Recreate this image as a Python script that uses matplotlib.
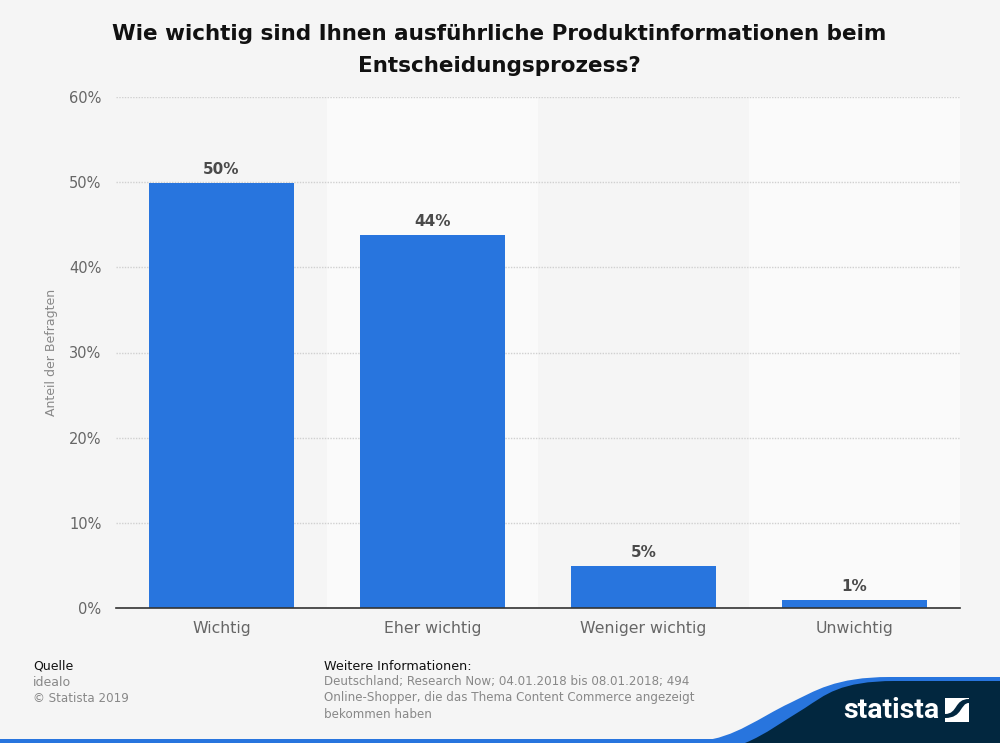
"""
Wichtigkeit von Produktinformationen, bar chart in the Statista layout
"""
import matplotlib
matplotlib.use('Agg')
import matplotlib.pyplot as plt
from matplotlib.patches import PathPatch, Rectangle
from matplotlib.path import Path

categories = ['Wichtig', 'Eher wichtig', 'Weniger wichtig', 'Unwichtig']
values = [49.9, 43.8, 4.9, 0.9]
value_labels = ['50%', '44%', '5%', '1%']
y_ticks = [0, 10, 20, 30, 40, 50, 60]

title = 'Wie wichtig sind Ihnen ausführliche Produktinformationen beim\nEntscheidungsprozess?'
info_text = ('Deutschland; Research Now; 04.01.2018 bis 08.01.2018; 494\n'
             'Online-Shopper, die das Thema Content Commerce angezeigt\n'
             'bekommen haben')

W, H = 1000, 743
BG = '#f5f5f5'
BLUE = '#2875de'
NAVY = '#02273f'

plt.rcParams['font.family'] = 'DejaVu Sans'

fig = plt.figure(figsize=(W / 100, H / 100), dpi=100, facecolor=BG)

# plot area from pixel positions
ax = fig.add_axes([116 / W, 1 - 608 / H, 844 / W, 511 / H], facecolor=BG)
ax.set_xlim(-0.5, 3.5)
ax.set_ylim(0, 60)

# alternating background bands
for i in range(len(categories)):
    if i % 2 == 1:
        ax.axvspan(i - 0.5, i + 0.5, color='#fafafa', lw=0, zorder=0)

ax.yaxis.grid(True, color='#d0d0d0', linestyle=(0, (1, 1)), linewidth=1.0, zorder=1)
ax.set_axisbelow(True)

x = list(range(len(categories)))
ax.bar(x, values, width=0.683, color=BLUE, zorder=2)
for i in x:
    ax.annotate(value_labels[i], (i, values[i]), xytext=(0, 4.5), textcoords='offset points',
                ha='center', va='bottom', fontsize=11, fontweight='bold', color='#4a4a4a')

ax.set_xticks(x)
ax.set_xticklabels(categories, fontsize=11.3, color='#666666')
ax.set_yticks(y_ticks)
ax.set_yticklabels([f'{t}%' for t in y_ticks], fontsize=10.5, color='#666666')
ax.tick_params(axis='both', length=0)
ax.tick_params(axis='x', pad=9.5)
ax.tick_params(axis='y', pad=10.5)
for side in ['top', 'right', 'left']:
    ax.spines[side].set_visible(False)
ax.spines['bottom'].set_color('#333333')
ax.spines['bottom'].set_linewidth(1.2)

# overlay in pixel coordinates for title, footer and logo
over = fig.add_axes([0, 0, 1, 1], facecolor='none')
over.set_xlim(0, W)
over.set_ylim(H, 0)
over.axis('off')

over.text(499.5, 50, title, ha='center', va='center', fontsize=15.45, fontweight='bold',
          color='#111111', linespacing=1.75)
over.text(51, 352, 'Anteil der Befragten', rotation=90, ha='center', va='center',
          fontsize=9, color='#888888')

over.text(33, 666, 'Quelle', ha='left', va='center', fontsize=9, color='#111111')
over.text(33, 682, 'idealo', ha='left', va='center', fontsize=9, color='#888888')
over.text(33, 698, '© Statista 2019', ha='left', va='center', fontsize=8.6, color='#888888')
over.text(324, 666, 'Weitere Informationen:', ha='left', va='center', fontsize=9.2, color='#111111')
over.text(324, 698, info_text, ha='left', va='center', fontsize=8.6, color='#888888', linespacing=1.3)

# logo swoosh
over.add_patch(Rectangle((0, 739), W, 4, color=BLUE, lw=0))
blue_path = Path([(700, 741), (735, 738), (760, 717), (790, 703), (815, 691), (835, 677), (890, 677),
                  (1000, 677), (1000, 743), (700, 743)],
                 [Path.MOVETO, Path.CURVE4, Path.CURVE4, Path.CURVE4, Path.CURVE4, Path.CURVE4, Path.CURVE4,
                  Path.LINETO, Path.LINETO, Path.CLOSEPOLY])
over.add_patch(PathPatch(blue_path, color=BLUE, lw=0))
navy_path = Path([(745, 743), (765, 735), (785, 720), (805, 708), (825, 695), (840, 681), (895, 681),
                  (1000, 681), (1000, 743), (745, 743)],
                 [Path.MOVETO, Path.CURVE4, Path.CURVE4, Path.CURVE4, Path.CURVE4, Path.CURVE4, Path.CURVE4,
                  Path.LINETO, Path.LINETO, Path.CLOSEPOLY])
over.add_patch(PathPatch(navy_path, color=NAVY, lw=0))

over.text(843, 710, 'statista', ha='left', va='center', fontsize=20.5, fontweight='bold',
          family='Roboto', color='white')
over.add_patch(Rectangle((945, 698), 24, 24, color='white', lw=0))
mark = Path([(945, 714), (958, 714), (954, 699), (969, 699), (969, 703), (960, 703), (963, 718), (945, 718),
             (945, 714)],
            [Path.MOVETO, Path.CURVE4, Path.CURVE4, Path.CURVE4, Path.LINETO, Path.CURVE4, Path.CURVE4,
             Path.CURVE4, Path.CLOSEPOLY])
over.add_patch(PathPatch(mark, color=NAVY, lw=0))

fig.savefig('out.png', dpi=100, facecolor=BG)
